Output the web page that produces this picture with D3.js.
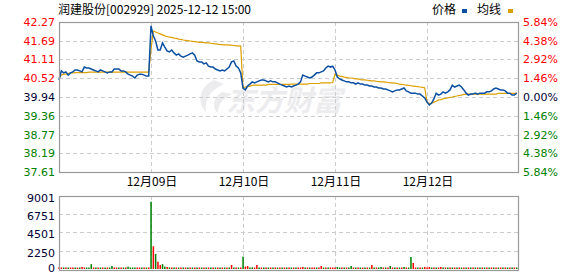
<!DOCTYPE html>
<html>
<head>
<meta charset="utf-8">
<script src="https://cdn.jsdelivr.net/npm/d3@7"></script>
<style>
  body { margin: 0; background: #fff; }
  svg text { font-family: "DejaVu Sans", sans-serif; font-size: 11px; }
  .cjk { font-family: "Noto Sans CJK SC", sans-serif; font-size: 12px; }
</style>
</head>
<body>
<div id="chart"></div>
<script>
// Price per sampled minute, one array per trading day (40 samples each)
const priceDay1 = [40.47,40.75,40.69,40.72,40.62,40.69,40.72,40.78,40.78,40.75,40.72,40.87,40.84,40.84,40.81,40.78,40.75,40.72,40.78,40.75,
                   40.72,40.69,40.72,40.72,40.81,40.81,40.81,40.75,40.75,40.72,40.65,40.62,40.59,40.53,40.62,40.65,40.65,40.62,40.59,40.59];
const priceDay2 = [42.15,41.84,41.68,41.40,41.40,41.62,41.49,41.37,41.34,41.40,41.31,41.24,41.28,41.21,41.18,41.21,41.24,41.28,41.31,41.24,
                   41.06,41.03,41.03,40.97,41.00,40.90,40.87,40.87,40.81,40.78,40.75,40.78,40.75,40.81,40.87,41.03,41.06,40.90,40.84,40.69];
const priceDay3 = [40.22,40.16,40.28,40.34,40.41,40.38,40.41,40.44,40.47,40.47,40.44,40.41,40.44,40.41,40.41,40.38,40.34,40.31,40.28,40.25,
                   40.28,40.25,40.28,40.31,40.34,40.41,40.62,40.59,40.56,40.53,40.56,40.62,40.69,40.69,40.72,40.75,40.84,40.90,40.87,40.90];
const priceDay4 = [40.78,40.56,40.50,40.47,40.44,40.41,40.41,40.38,40.38,40.34,40.38,40.34,40.34,40.31,40.31,40.28,40.28,40.25,40.25,40.22,
                   40.22,40.19,40.19,40.16,40.13,40.10,40.13,40.16,40.16,40.19,40.22,40.13,40.10,40.06,40.06,40.06,40.03,40.03,39.97,39.91];
const priceDay5 = [39.78,39.69,39.75,39.88,40.06,40.00,40.03,40.10,40.06,40.10,40.16,40.31,40.25,40.28,40.31,40.25,40.16,40.06,40.00,40.03,
                   40.03,40.06,40.03,40.06,40.06,40.06,40.10,40.10,40.13,40.19,40.22,40.19,40.16,40.16,40.13,40.06,40.06,40.00,40.00,40.06];

// Average price line (均线), same sampling
const avgDay1 = [40.53,40.62,40.65,40.65,40.67,40.69,40.69,40.70,40.70,40.70,40.70,40.70,40.70,40.71,40.71,40.71,40.71,40.71,40.71,40.71,
                 40.71,40.71,40.71,40.71,40.71,40.71,40.71,40.71,40.71,40.71,40.71,40.71,40.71,40.71,40.71,40.71,40.71,40.71,40.71,40.71];
const avgDay2 = [41.40,41.99,41.96,41.93,41.90,41.87,41.84,41.82,41.80,41.79,41.77,41.76,41.74,41.73,41.71,41.70,41.69,41.68,41.67,41.66,
                 41.65,41.64,41.64,41.63,41.62,41.62,41.61,41.60,41.59,41.58,41.57,41.57,41.56,41.56,41.55,41.55,41.54,41.53,41.53,41.52];
const avgDay3 = [40.22,40.25,40.27,40.28,40.30,40.31,40.31,40.31,40.31,40.31,40.31,40.33,40.33,40.33,40.33,40.33,40.33,40.33,40.33,40.33,
                 40.33,40.34,40.34,40.34,40.34,40.34,40.34,40.34,40.34,40.36,40.36,40.36,40.36,40.36,40.38,40.38,40.38,40.38,40.38,40.39];
const avgDay4 = [40.65,40.62,40.59,40.58,40.56,40.55,40.53,40.53,40.52,40.50,40.50,40.48,40.47,40.47,40.46,40.45,40.44,40.44,40.43,40.42,
                 40.41,40.41,40.40,40.39,40.38,40.38,40.37,40.36,40.34,40.33,40.32,40.31,40.30,40.29,40.28,40.27,40.26,40.25,40.24,40.23];
const avgDay5 = [39.78,39.74,39.75,39.78,39.81,39.85,39.86,39.88,39.90,39.91,39.93,39.94,39.96,39.97,39.99,40.00,40.02,40.02,40.03,40.03,
                 40.03,40.03,40.03,40.03,40.03,40.03,40.03,40.03,40.03,40.03,40.03,40.05,40.05,40.05,40.05,40.05,40.05,40.05,40.05,40.06];

// Volume per sample: positive = up (red), negative = down (green)
const volDay1 = [210,120,-100,130,-110,100,140,-120,100,-110,250,130,-110,-130,-600,120,-100,110,-120,100,
                 -120,110,-100,-370,120,110,-100,120,-110,100,-290,-120,-110,-130,120,100,-110,120,-100,110];
const volDay2 = [-8300,2800,-1850,900,500,-600,-300,250,-200,150,-160,140,-120,150,-110,120,-130,110,-100,120,
                 -110,130,-120,100,-110,120,-100,110,-130,100,-120,110,-100,120,-110,490,-120,100,-110,120];
const volDay3 = [-1520,290,370,-150,-200,130,490,-110,120,-100,110,-120,100,-110,120,-100,110,-130,100,-110,
                 120,-100,110,-120,100,120,250,-110,100,-120,110,120,-100,110,370,-120,100,-110,120,120];
const volDay4 = [120,-250,-150,110,-100,120,-110,-370,100,-120,110,-150,100,-110,120,-100,490,-110,120,-100,
                 -250,110,-120,100,-370,110,-100,120,-110,100,-250,120,-110,-1480,740,100,-150,110,-120,250];
const volDay5 = [120,250,-110,100,-130,110,250,-100,120,-110,100,-120,110,-100,120,-110,100,-120,110,-100,
                 120,-110,100,-120,110,-100,120,-110,100,-120,150,-110,100,-120,110,-100,120,-140,110,-180];

const priceDays = [priceDay1, priceDay2, priceDay3, priceDay4, priceDay5];
const avgDays = [avgDay1, avgDay2, avgDay3, avgDay4, avgDay5];
const volDays = [volDay1, volDay2, volDay3, volDay4, volDay5];

const dateLabels = ["12月09日", "12月10日", "12月11日", "12月12日"];
const priceTicks = [42.27, 41.69, 41.11, 40.52, 39.94, 39.36, 38.77, 38.19, 37.61];
const pctTicks = ["5.84%", "4.38%", "2.92%", "1.46%", "0.00%", "1.46%", "2.92%", "4.38%", "5.84%"];
const volTicks = [9001, 6751, 4501, 2250, 0];
const prevClose = 39.94;

const W = 578, H = 276;
const left = 59, right = 519;
const pTop = 22, pBottom = 172;
const vTop = 196, vBottom = 269;

const svg = d3.select("#chart").append("svg")
    .attr("width", W).attr("height", H);

const x = d3.scaleLinear().domain([0, 5]).range([left, right]);
const y = d3.scaleLinear().domain([37.61, 42.27]).range([pBottom, pTop]);
const yv = d3.scaleLinear().domain([0, 9001]).range([vBottom, vTop]);

const perDay = 40;
const flat = (days) => days.flatMap((arr, d) => arr.map((v, i) => ({ t: d + i / perDay, v: v })));
const priceData = flat(priceDays);
const avgData = flat(avgDays);
const volData = flat(volDays);

const red = "#ff0000", green = "#008000";
const tickColor = (p) => p > prevClose + 0.001 ? red : (p < prevClose - 0.001 ? green : "#000033");

// title and legend
svg.append("text").attr("class", "cjk")
    .attr("x", 58).attr("y", 14)
    .text("润建股份[002929] 2025-12-12 15:00");

svg.append("text").attr("class", "cjk").attr("x", 432).attr("y", 14).text("价格");
svg.append("rect").attr("x", 462).attr("y", 9).attr("width", 5).attr("height", 4).attr("fill", "#0b4fa3");
svg.append("text").attr("class", "cjk").attr("x", 477).attr("y", 14).text("均线");
svg.append("rect").attr("x", 508).attr("y", 9).attr("width", 5).attr("height", 4).attr("fill", "#dca000");

// watermark
const wm = svg.append("g").attr("fill", "#ececee");
wm.append("path")
    .attr("d", "M214,80 C200,86 196,102 206,112 C204,100 210,90 224,84 Z M222,92 C212,98 212,108 218,113 C218,105 222,99 232,94 Z");
wm.append("text")
    .attr("x", 226).attr("y", 111)
    .style("font-family", "'Noto Sans CJK SC', sans-serif")
    .style("font-size", "29px").style("font-weight", "bold")
    .style("font-style", "italic")
    .text("东方财富");

// price grid
const grid = svg.append("g").attr("stroke", "#cccccc").attr("stroke-dasharray", "4,3").attr("stroke-width", 1);
priceTicks.slice(1, -1).forEach(p => {
    grid.append("line").attr("x1", left).attr("x2", right)
        .attr("y1", Math.round(y(p)) + 0.5).attr("y2", Math.round(y(p)) + 0.5);
});
[1, 2, 3, 4].forEach(d => {
    grid.append("line").attr("x1", Math.round(x(d)) + 0.5).attr("x2", Math.round(x(d)) + 0.5)
        .attr("y1", pTop).attr("y2", pBottom);
    grid.append("line").attr("x1", Math.round(x(d)) + 0.5).attr("x2", Math.round(x(d)) + 0.5)
        .attr("y1", vTop).attr("y2", vBottom);
});
volTicks.slice(1, -1).forEach(v => {
    grid.append("line").attr("x1", left).attr("x2", right)
        .attr("y1", Math.round(yv(v)) + 0.5).attr("y2", Math.round(yv(v)) + 0.5);
});

// lines
const line = d3.line().x(d => x(d.t)).y(d => y(d.v));
svg.append("path").datum(avgData)
    .attr("d", line).attr("fill", "none")
    .attr("stroke", "#dca000").attr("stroke-width", 1.2);
svg.append("path").datum(priceData)
    .attr("d", line).attr("fill", "none")
    .attr("stroke", "#0b4fa3").attr("stroke-width", 1.5);

// volume bars
svg.append("g").selectAll("rect")
    .data(volData)
    .enter().append("rect")
    .attr("x", d => x(d.t) - 0.7)
    .attr("width", 1.5)
    .attr("y", d => Math.min(yv(Math.abs(d.v)), vBottom - 1.5))
    .attr("height", d => Math.max(vBottom - yv(Math.abs(d.v)), 1.5))
    .attr("fill", d => d.v >= 0 ? red : green);

// frames
svg.append("rect").attr("x", left + 0.5).attr("y", pTop + 0.5)
    .attr("width", right - left - 1).attr("height", pBottom - pTop)
    .attr("fill", "none").attr("stroke", "#999999").attr("stroke-width", 1.2);
svg.append("rect").attr("x", left + 0.5).attr("y", vTop + 0.5)
    .attr("width", right - left - 1).attr("height", vBottom - vTop + 1)
    .attr("fill", "none").attr("stroke", "#999999").attr("stroke-width", 1.2);

// left price labels
svg.append("g").selectAll("text")
    .data(priceTicks)
    .enter().append("text")
    .attr("x", 55).attr("y", d => y(d)).attr("dy", "0.35em")
    .attr("text-anchor", "end")
    .attr("fill", d => tickColor(d))
    .text(d => d.toFixed(2));

// right percent labels
svg.append("g").selectAll("text")
    .data(pctTicks)
    .enter().append("text")
    .attr("x", 523).attr("y", (d, i) => y(priceTicks[i])).attr("dy", "0.35em")
    .attr("fill", (d, i) => tickColor(priceTicks[i]))
    .text(d => d);

// date labels
svg.append("g").selectAll("text")
    .data(dateLabels)
    .enter().append("text")
    .attr("class", "cjk")
    .attr("x", (d, i) => x(i + 1) + 1).attr("y", 186)
    .attr("text-anchor", "middle")
    .text(d => d);

// volume labels
svg.append("g").selectAll("text")
    .data(volTicks)
    .enter().append("text")
    .attr("x", 55).attr("y", d => Math.min(yv(d) + 2, 268)).attr("dy", "0.35em")
    .attr("text-anchor", "end")
    .attr("fill", "#000033")
    .text(d => d);
</script>
</body>
</html>
